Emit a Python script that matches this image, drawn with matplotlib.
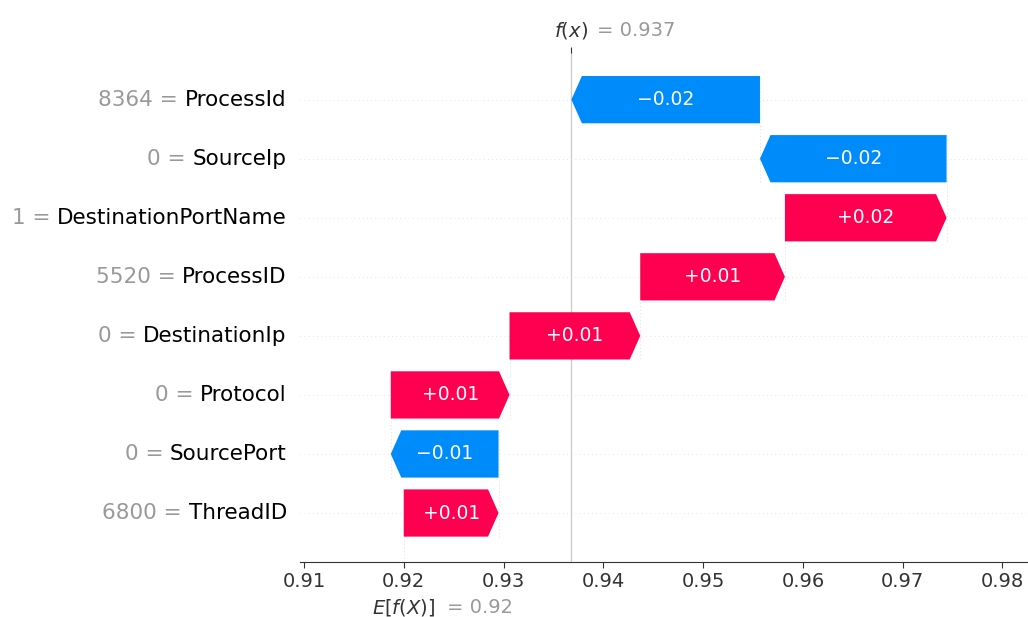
import numpy as np
import matplotlib.pyplot as plt

# feature contributions, listed top row first
features = ["ProcessId", "SourceIp", "DestinationPortName", "ProcessID",
            "DestinationIp", "Protocol", "SourcePort", "ThreadID"]
feature_values = ["8364", "0", "1", "5520", "0", "0", "0", "6800"]
shap_values = [-0.0189, -0.0187, 0.0162, 0.0145, 0.0131, 0.0119, -0.0108, 0.0095]
base_value = 0.92
fx = base_value + sum(shap_values)

red = "#ff0051"
blue = "#008bfb"
gray = "#999999"

fig = plt.figure(figsize=(10.28, 6.17), dpi=100)
ax = fig.add_axes([0.2918, 0.0891, 0.7082, 0.825])
xlim = (0.9096, 0.98256)
ax.set_xlim(*xlim)
ax.set_ylim(-0.83, 7.79)

n = len(features)
ypos = np.arange(n)[::-1]

# running total, accumulated from the bottom row upwards
starts = np.zeros(n)
cur = base_value
for i in range(n - 1, -1, -1):
    starts[i] = cur
    cur += shap_values[i]

# arrow head length of about 10 px, in data units
ax_w_px = 0.7082 * fig.get_figwidth() * fig.dpi
hl = 10.5 / ax_w_px * (xlim[1] - xlim[0])

for y in ypos:
    ax.axhline(y, color="#cccccc", lw=0.5, dashes=(1, 5), zorder=-1)

for i in range(n):
    v = shap_values[i]
    s = starts[i]
    y = ypos[i]
    color = red if v > 0 else blue
    ax.arrow(s, y, v, 0, width=0.8, head_width=0.8, head_length=hl,
             length_includes_head=True, color=color, lw=0, zorder=2)
    label = f"{v:+.2f}".replace("-", "\u2212")
    ax.text(s + v / 2, y, label, color="white", ha="center", va="center",
            fontsize=13.5, zorder=3)

    # feature name in black, its value in gray just to the left
    name = ax.annotate(features[i], xy=(0, y),
                       xycoords=("axes fraction", "data"), xytext=(-9.5, 0),
                       textcoords="offset points", ha="right", va="center",
                       color="black", fontsize=15.5)
    ax.annotate(f"{feature_values[i]} =", xy=(0, 0.5), xycoords=name,
                xytext=(-5, 0), textcoords="offset points", ha="right",
                va="center", color=gray, fontsize=15.5)

# dashed connectors between consecutive bars
for i in range(n - 1):
    loc = starts[i]
    ax.plot([loc, loc], [ypos[i] - 1 - 0.4, ypos[i] + 0.4], color="#dddddd",
            lw=0.5, dashes=(2, 3), zorder=-1)

ax.axvline(fx, color="#cccccc", lw=1, zorder=-1)
ax.axvline(base_value, 0, 1 / (n + 1), color="#dddddd", lw=0.5,
           dashes=(2, 3), zorder=-1)

for side in ["left", "right", "top"]:
    ax.spines[side].set_visible(False)
ax.spines["bottom"].set_color("#333333")
ax.set_yticks([])
ticks = np.arange(0.91, 0.985, 0.01)
ax.set_xticks(ticks)
ax.set_xticklabels([f"{t:.2f}" for t in ticks])
ax.tick_params(axis="x", labelsize=14, length=4, color="#333333",
               labelcolor="#333333")

# f(x) marker on top
ax2 = ax.twiny()
ax2.set_xlim(*xlim)
ax2.set_xticks([fx])
ax2.set_xticklabels([""])
ax2.tick_params(axis="x", length=4, color="#333333")
for side in ax2.spines:
    ax2.spines[side].set_visible(False)

ax.annotate("$f(x)$", xy=(fx, 1), xycoords=("data", "axes fraction"),
            xytext=(0, 16.5), textcoords="offset points", ha="center",
            va="center", fontsize=14, color="#333333")
ax.annotate(f"= {fx:.3f}", xy=(fx, 1), xycoords=("data", "axes fraction"),
            xytext=(18.5, 16.5), textcoords="offset points", ha="left",
            va="center", fontsize=14, color=gray)

ax.annotate("$E[f(X)]$", xy=(base_value, 0), xycoords=("data", "axes fraction"),
            xytext=(0, -33), textcoords="offset points", ha="center",
            va="center", fontsize=14, color="#333333")
ax.annotate(f"= {base_value:.2f}", xy=(base_value, 0),
            xycoords=("data", "axes fraction"), xytext=(31, -33),
            textcoords="offset points", ha="left", va="center",
            fontsize=14, color=gray)

fig.savefig("out.png", dpi=100)
